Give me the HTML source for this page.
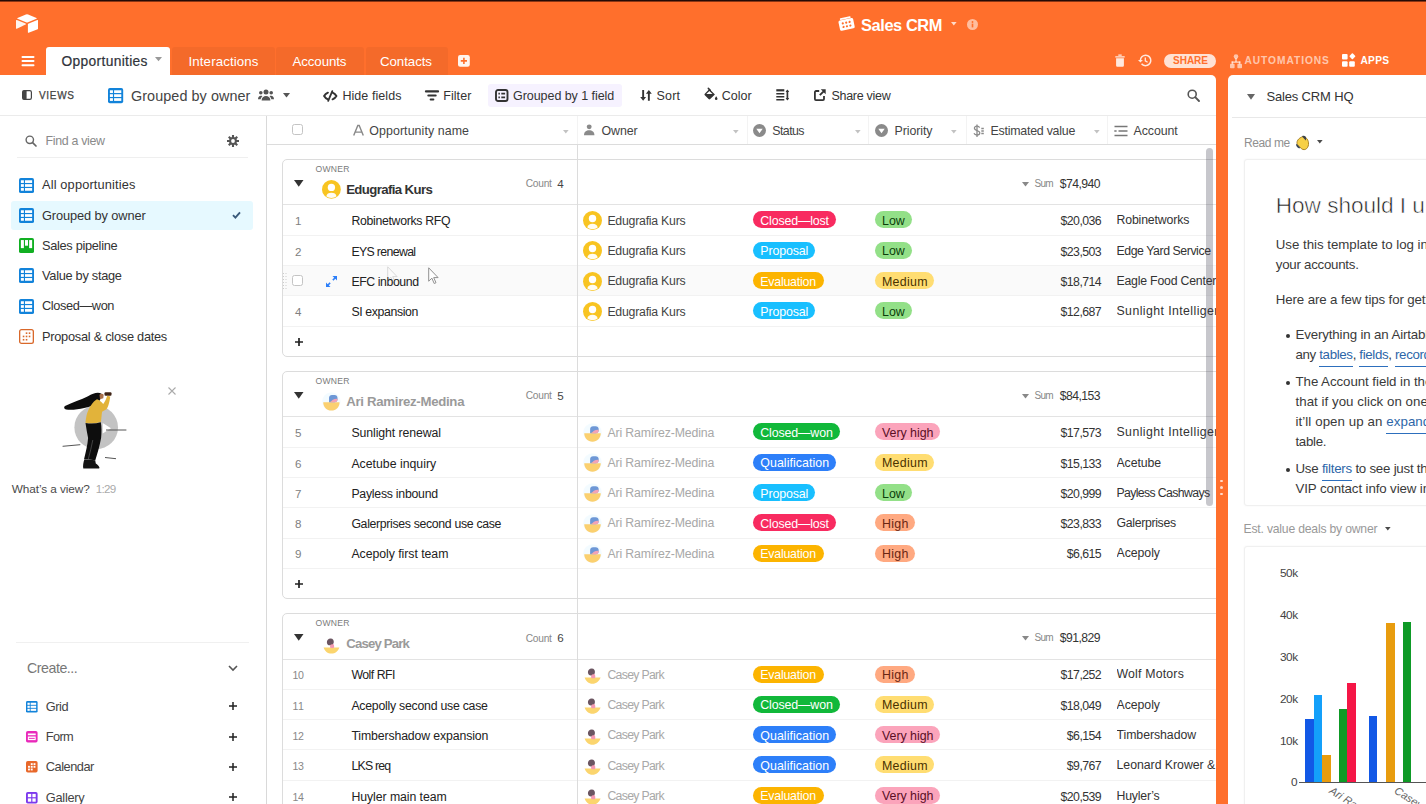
<!DOCTYPE html>
<html><head><meta charset="utf-8"><title>Sales CRM</title><style>
*{box-sizing:border-box;margin:0;padding:0}
html,body{width:1426px;height:804px;overflow:hidden;background:#ff6f2c;font-family:"Liberation Sans",sans-serif;}
.abs{position:absolute}
.t{position:absolute;white-space:nowrap}
svg{position:absolute;overflow:visible}
.pill{position:absolute;height:17px;border-radius:9px;font-size:12px;line-height:17px;text-align:center;white-space:nowrap}
.hl{position:absolute;height:1px;background:#e4e4e4}
.vl{position:absolute;width:1px;background:#dcdcdc}
.lk{color:#2d66a8;border-bottom:1.600px solid #2d6fbd;padding-bottom:4.300px}
</style></head><body>
<div class="abs" style="left:0;top:0;width:1426px;height:1.6px;background:linear-gradient(#1d0805 0,#2a0c06 45%,rgba(150,50,15,.35) 100%)"></div>
<svg style="left:16px;top:14px" width="22" height="19" viewBox="0 0 22 19">
<path d="M9.9 .5 L1.5 3.9 a.5 .5 0 0 0 0 .9 L10 8.2 a2.7 2.7 0 0 0 2 0 L20.5 4.8 a.5 .5 0 0 0 0 -.9 L12.1 .5 a3 3 0 0 0 -2.2 0z" fill="#fff"/>
<path d="M11.9 10.1 v8.2 a.5 .5 0 0 0 .7 .45 l9.1 -3.6 a.5 .5 0 0 0 .3 -.45 V6.5 a.5 .5 0 0 0 -.7 -.45 l-9.1 3.6 a.5 .5 0 0 0 -.3 .45z" fill="#fff"/>
<path d="M9.7 10.5 L6.9 11.8 6.6 11.95 .8 14.7 C.45 14.9 0 14.6 0 14.2 V6.5 c0 -.15 .08 -.28 .18 -.37 a.6 .6 0 0 1 .15 -.1 c.14 -.08 .34 -.1 .5 -.04 l8.8 3.5 c.45 .18 .48 .8 .07 1z" fill="#fff" fill-opacity=".92"/>
</svg>
<svg style="left:838px;top:16px" width="17" height="16" viewBox="0 0 17 16">
<g transform="rotate(-12 8.5 8)"><rect x="1" y="3.2" width="15" height="10.5" rx="1.6" fill="#fff"/>
<circle cx="5" cy="6.6" r="1.1" fill="#ff6f2c"/><circle cx="8.5" cy="6.6" r="1.1" fill="#ff6f2c"/><circle cx="12" cy="6.6" r="1.1" fill="#ff6f2c"/>
<circle cx="5" cy="10.3" r="1.1" fill="#ff6f2c"/><circle cx="8.5" cy="10.3" r="1.1" fill="#ff6f2c"/><circle cx="12" cy="10.3" r="1.1" fill="#ff6f2c"/>
<rect x="3" y="1.2" width="11" height="1.6" rx=".8" fill="#fff"/></g></svg>
<div class="t" style="left:861px;top:14.00px;height:22px;line-height:22px;font-size:16.4px;color:#fff;font-weight:700;letter-spacing:-0.408px;">Sales CRM</div>
<svg style="left:950.5px;top:22.3px" width="5.6" height="4" viewBox="0 0 7 5"><path d="M0 0h7L3.5 4.5z" fill="#fff" fill-opacity=".75"/></svg>
<svg style="left:967px;top:19px" width="11" height="11" viewBox="0 0 11 11"><circle cx="5.5" cy="5.5" r="5.5" fill="#fff" fill-opacity=".55"/>
<rect x="4.7" y="4.6" width="1.6" height="3.8" fill="#ff6f2c"/><circle cx="5.5" cy="3" r=".95" fill="#ff6f2c"/></svg>
<svg style="left:22px;top:56px" width="12" height="10" viewBox="0 0 12 10"><path d="M.5 1h11M.5 5.100h11M.5 9.200h11" stroke="#fff" stroke-width="2" stroke-linecap="round"/></svg>
<div class="abs" style="left:46px;top:46.5px;width:124px;height:30px;background:#fff;border-radius:3px 3px 0 0"></div>
<div class="t" style="left:61.5px;top:53.30px;height:18px;line-height:18px;font-size:13.8px;color:#30333a;font-weight:400;letter-spacing:0.327px;-webkit-text-stroke:.2px #30333a">Opportunities</div>
<svg style="left:155px;top:57px" width="7" height="5" viewBox="0 0 7 5"><path d="M0 0h7L3.5 4.3z" fill="#999"/></svg>
<div class="abs" style="left:171.5px;top:46.5px;width:103.0px;height:28.5px;background:rgba(0,0,0,.045);border-radius:3px 3px 0 0"></div>
<div class="t" style="left:188.5px;top:52.80px;height:18px;line-height:18px;font-size:13.3px;color:#fff;font-weight:400;letter-spacing:0.113px;">Interactions</div>
<div class="abs" style="left:276px;top:46.5px;width:87.5px;height:28.5px;background:rgba(0,0,0,.045);border-radius:3px 3px 0 0"></div>
<div class="t" style="left:292.5px;top:52.80px;height:18px;line-height:18px;font-size:13.3px;color:#fff;font-weight:400;letter-spacing:-0.101px;">Accounts</div>
<div class="abs" style="left:365.5px;top:46.5px;width:82.0px;height:28.5px;background:rgba(0,0,0,.045);border-radius:3px 3px 0 0"></div>
<div class="t" style="left:380px;top:52.80px;height:18px;line-height:18px;font-size:13.3px;color:#fff;font-weight:400;letter-spacing:-0.069px;">Contacts</div>
<svg style="left:457.8px;top:55.3px" width="11.800" height="11.800" viewBox="0 0 11 11"><rect width="11" height="11" rx="2" fill="#fff" fill-opacity=".92"/><path d="M5.5 2.6v5.8M2.6 5.5h5.8" stroke="#ff6f2c" stroke-width="1.5"/></svg>
<svg style="left:1114.5px;top:54px" width="10" height="13" viewBox="0 0 10 13"><path d="M.3 2.2h9.4v1.4H.3zM3.3 .6h3.4v1.2H3.3zM1.1 4.3h7.8v7.3a1.2 1.2 0 0 1-1.2 1.2H2.3a1.2 1.2 0 0 1-1.2-1.2z" fill="#fff" fill-opacity=".85"/></svg>
<svg style="left:1138px;top:54px" width="14" height="13" viewBox="0 0 14 13"><path d="M7.6 .6a5.9 5.9 0 1 1-4.6 9.6l1.1-.9a4.5 4.5 0 1 0-1-3.4h1.8L2.4 8.6 0 5.9h1.7A5.9 5.9 0 0 1 7.6.6z" fill="#fff" fill-opacity=".85"/><path d="M7.3 3.4v3.5l2.3 1.4" stroke="#fff" stroke-opacity=".85" stroke-width="1.3" fill="none"/></svg>
<div class="abs" style="left:1164px;top:53.5px;width:52px;height:14.5px;border-radius:8px;background:rgba(255,255,255,.8)"></div>
<div class="t" style="left:1173px;top:53.80px;height:14px;line-height:14px;font-size:10px;color:#ff6f2c;font-weight:700;letter-spacing:-0.002px;">SHARE</div>
<svg style="left:1229.5px;top:53.5px" width="12" height="15" viewBox="0 0 12 15"><g fill="#fff" fill-opacity=".6"><circle cx="6" cy="2.6" r="2.3"/><rect x="5.2" y="4" width="1.6" height="4"/><rect x="1.6" y="7.4" width="8.8" height="1.5"/><rect x="1.6" y="7.4" width="1.5" height="3"/><rect x="8.9" y="7.4" width="1.5" height="3"/><rect x="0" y="9.8" width="4.6" height="4.4" rx=".8"/><rect x="7.4" y="9.8" width="4.6" height="4.4" rx=".8"/></g></svg>
<div class="t" style="left:1244.5px;top:53.80px;height:14px;line-height:14px;font-size:10.2px;color:rgba(255,255,255,.62);font-weight:700;letter-spacing:0.951px;">AUTOMATIONS</div>
<svg style="left:1342px;top:54px" width="13" height="13" viewBox="0 0 13 13"><g fill="#fff"><rect x="0" y="0" width="5.6" height="5.6" rx="1"/><rect x="0" y="7.2" width="5.6" height="5.6" rx="1"/><rect x="7.2" y="7.2" width="5.6" height="5.6" rx="1"/><rect x="7.6" y="-.2" width="4.6" height="4.6" rx=".8" transform="rotate(45 9.9 2.8)"/></g></svg>
<div class="t" style="left:1360.5px;top:53.80px;height:14px;line-height:14px;font-size:10.2px;color:#fff;font-weight:700;letter-spacing:0.241px;">APPS</div>
<div class="abs" style="left:0;top:75px;width:1216.2px;height:729px;background:#fff;border-radius:0 5px 0 0"></div>
<div class="abs" style="left:1227.5px;top:75px;width:200px;height:729px;background:#fff;border-radius:5px 0 0 0"></div>
<div class="hl" style="left:0;top:115px;width:1216px;background:#ebebeb"></div>
<svg style="left:22px;top:90px" width="10" height="10" viewBox="0 0 10 10"><rect x=".6" y=".6" width="8.8" height="8.8" rx="1.6" fill="none" stroke="#444" stroke-width="1.2"/><rect x=".6" y=".6" width="4" height="8.8" rx="1" fill="#444"/></svg>
<div class="t" style="left:39px;top:88.50px;height:14px;line-height:14px;font-size:10px;color:#444;font-weight:400;letter-spacing:0.693px;-webkit-text-stroke:.25px #444">VIEWS</div>
<svg style="left:108px;top:87.7px" width="15.2" height="15.2" viewBox="0 0 16 16"><rect x="0" y="0" width="16" height="16" rx="2" fill="#1283da"/><g fill="#fff"><rect x="2" y="2.4" width="3.2" height="2.9"/><rect x="6.4" y="2.4" width="7.6" height="2.9"/><rect x="2" y="6.55" width="3.2" height="2.9"/><rect x="6.4" y="6.55" width="7.6" height="2.9"/><rect x="2" y="10.7" width="3.2" height="2.9"/><rect x="6.4" y="10.7" width="7.6" height="2.9"/></g></svg>
<div class="t" style="left:131px;top:85.70px;height:20px;line-height:20px;font-size:14.4px;color:#444;font-weight:400;letter-spacing:0.068px;">Grouped by owner</div>
<svg style="left:258px;top:89px" width="16" height="12" viewBox="0 0 16 12"><g fill="#555"><circle cx="8" cy="3" r="2.5"/><path d="M3.6 11.5c0-3 2-4.6 4.4-4.6s4.400 1.600 4.400 4.600z"/><circle cx="2.800" cy="3.800" r="1.800"/><circle cx="13.200" cy="3.800" r="1.800"/><path d="M0 10.300c0-2.200 1.200-3.500 2.900-3.500 .600 0 1.100 .150 1.500 .400-1 .900-1.600 2.100-1.700 3.100z"/><path d="M16 10.300c0-2.200-1.200-3.500-2.900-3.500-.600 0-1.100 .150-1.500 .400 1 .900 1.600 2.100 1.700 3.100z"/></g></svg>
<svg style="left:283px;top:93px" width="7" height="5" viewBox="0 0 7 5"><path d="M0 0h7L3.500 4.500z" fill="#555"/></svg>
<svg style="left:323px;top:89.5px" width="14.5" height="12" viewBox="0 0 14.5 12"><g fill="none" stroke="#333" stroke-width="2" stroke-linecap="round" stroke-linejoin="round"><path d="M4.9 2.7C3.2 3.4 1.900 4.600 1.100 6c.8 1.400 2.100 2.600 3.800 3.300"/><path d="M9.600 2.700c1.700 .700 3 1.900 3.800 3.300-.800 1.400-2.100 2.600-3.800 3.300"/><path d="M9.300 1.200L5.200 10.800" stroke-width="1.800"/></g></svg>
<div class="t" style="left:342.4px;top:87.70px;height:16px;line-height:16px;font-size:12.5px;color:#333;font-weight:400;letter-spacing:0.064px;">Hide fields</div>
<svg style="left:424.5px;top:90px" width="14" height="11" viewBox="0 0 14 11"><path d="M1 1.400h12" stroke="#333" stroke-width="2.300" stroke-linecap="round"/><path d="M3.300 5.500h7.400" stroke="#333" stroke-width="2" stroke-linecap="round"/><path d="M5.600 9.500h2.800" stroke="#333" stroke-width="1.900" stroke-linecap="round"/></svg>
<div class="t" style="left:443.3px;top:87.70px;height:16px;line-height:16px;font-size:12.5px;color:#333;font-weight:400;letter-spacing:0.044px;">Filter</div>
<div class="abs" style="left:487.5px;top:84.3px;width:134.5px;height:23.2px;background:#f6f2ff;border-radius:3px"></div>
<svg style="left:494.5px;top:89px" width="13.5" height="13" viewBox="0 0 13.5 13"><rect x="1" y="1" width="11.500" height="11" rx="2" fill="none" stroke="#333" stroke-width="1.900"/><path d="M3.400 4.700h1.500M6.300 4.700h3.800M3.400 8.300h1.500M6.300 8.300h3.800" stroke="#333" stroke-width="1.700"/></svg>
<div class="t" style="left:513px;top:87.70px;height:16px;line-height:16px;font-size:12.5px;color:#333;font-weight:400;letter-spacing:-0.05px;">Grouped by 1 field</div>
<svg style="left:639.5px;top:89.5px" width="12" height="11" viewBox="0 0 12 11"><g fill="#333"><path d="M2.200 0h1.900v7h2L3.150 10.800 .2 7h2z"/><path d="M7.900 10.800h1.900v-7h2L8.850 0 5.900 3.800h2z"/></g></svg>
<div class="t" style="left:656.6px;top:87.70px;height:16px;line-height:16px;font-size:12.5px;color:#333;font-weight:400;letter-spacing:0.125px;">Sort</div>
<svg style="left:703.5px;top:88.3px" width="14" height="12.5" viewBox="0 0 14 12.5"><path d="M5.400 .9 L10.900 6.400 6.200 11.100 a1.100 1.100 0 0 1 -1.600 0 L.8 7.300 a1.100 1.100 0 0 1 0 -1.600z" fill="#333"/><path d="M2.300 6.100 L5.400 3 8.500 6.100z" fill="#fff"/><path d="M4.300 0.400 L6.300 2.400" stroke="#333" stroke-width="1.500" stroke-linecap="round"/><path d="M12.200 8.200 c.8 1.200 1.300 1.900 1.300 2.600 a1.300 1.300 0 0 1 -2.600 0 c0 -.7 .5 -1.400 1.300 -2.600z" fill="#333"/></svg>
<div class="t" style="left:721.7px;top:87.70px;height:16px;line-height:16px;font-size:12.5px;color:#333;font-weight:400;letter-spacing:0.032px;">Color</div>
<svg style="left:775.7px;top:89.3px" width="13.5" height="12" viewBox="0 0 13.5 12"><path d="M.3 1.300h8" stroke="#333" stroke-width="2.200"/><path d="M.3 4.700h8M.3 7.700h8M.3 10.700h8" stroke="#333" stroke-width="1.500"/><path d="M11.400 1.600v8.800" stroke="#333" stroke-width="1.700"/><path d="M9.600 3L11.400 .4l1.800 2.600zM9.600 9l1.800 2.600 1.800-2.600z" fill="#333"/></svg>
<svg style="left:814.2px;top:89px" width="12" height="12" viewBox="0 0 12 12"><path d="M5.200 2H2a1.100 1.100 0 0 0-1.100 1.100v6.900A1.100 1.100 0 0 0 2 11.100h6.900A1.100 1.100 0 0 0 10 10V7" fill="none" stroke="#333" stroke-width="1.800"/><path d="M6.800 .3h4.900v4.900z" fill="#333"/><path d="M10.200 1.800L5.800 6.200" stroke="#333" stroke-width="1.900"/></svg>
<div class="t" style="left:831.4px;top:87.70px;height:16px;line-height:16px;font-size:12.5px;color:#333;font-weight:400;letter-spacing:-0.271px;">Share view</div>
<svg style="left:1186.500px;top:89px" width="13" height="13" viewBox="0 0 13 13"><circle cx="5.200" cy="5.200" r="4" fill="none" stroke="#555" stroke-width="1.600"/><path d="M8.200 8.200l3.800 3.800" stroke="#555" stroke-width="1.900" stroke-linecap="round"/></svg>
<div class="vl" style="left:266px;top:116px;height:688px;background:#d9d9d9"></div>
<svg style="left:24.500px;top:134.500px" width="12" height="12" viewBox="0 0 12 12"><circle cx="4.800" cy="4.800" r="3.700" fill="none" stroke="#666" stroke-width="1.400"/><path d="M7.600 7.600l3.400 3.400" stroke="#666" stroke-width="1.700" stroke-linecap="round"/></svg>
<div class="t" style="left:45.5px;top:132.60px;height:16px;line-height:16px;font-size:12.4px;color:#8a8a8a;font-weight:400;letter-spacing:-0.322px;">Find a view</div>
<svg style="left:227px;top:134.500px" width="12" height="12" viewBox="0 0 12 12"><g stroke="#555" stroke-width="2.100"><path d="M6 0v12M0 6h12M1.760 1.760l8.480 8.480M10.240 1.760l-8.480 8.480"/></g><circle cx="6" cy="6" r="3.900" fill="#555"/><circle cx="6" cy="6" r="1.900" fill="#fff"/></svg>
<div class="hl" style="left:16.500px;top:157px;width:231px;background:#efefef"></div>
<div class="abs" style="left:10.500px;top:201px;width:242.500px;height:28.500px;background:#e6f9ff;border-radius:3px"></div>
<svg style="left:18.8px;top:177.5px" width="15" height="15" viewBox="0 0 16 16"><rect x="0" y="0" width="16" height="16" rx="2" fill="#1283da"/><g fill="#fff"><rect x="2" y="2.4" width="3.2" height="2.9"/><rect x="6.4" y="2.4" width="7.6" height="2.9"/><rect x="2" y="6.55" width="3.2" height="2.9"/><rect x="6.4" y="6.55" width="7.6" height="2.9"/><rect x="2" y="10.7" width="3.2" height="2.9"/><rect x="6.4" y="10.7" width="7.6" height="2.9"/></g></svg>
<div class="t" style="left:42px;top:177.30px;height:16px;line-height:16px;font-size:12.8px;color:#333;font-weight:400;letter-spacing:0.145px;">All opportunities</div>
<svg style="left:18.8px;top:207.8px" width="15" height="15" viewBox="0 0 16 16"><rect x="0" y="0" width="16" height="16" rx="2" fill="#1283da"/><g fill="#fff"><rect x="2" y="2.4" width="3.2" height="2.9"/><rect x="6.4" y="2.4" width="7.6" height="2.9"/><rect x="2" y="6.55" width="3.2" height="2.9"/><rect x="6.4" y="6.55" width="7.6" height="2.9"/><rect x="2" y="10.7" width="3.2" height="2.9"/><rect x="6.4" y="10.7" width="7.6" height="2.9"/></g></svg>
<div class="t" style="left:42px;top:207.60px;height:16px;line-height:16px;font-size:12.8px;color:#333;font-weight:400;letter-spacing:-0.107px;">Grouped by owner</div>
<svg style="left:18.8px;top:238.2px" width="15" height="15" viewBox="0 0 16 16"><rect width="16" height="16" rx="2" fill="#11af22"/><g fill="#fff"><rect x="2" y="2.200" width="3.200" height="8.600"/><rect x="6.400" y="2.200" width="3.200" height="6"/><rect x="10.800" y="2.200" width="3.200" height="8.600"/></g></svg>
<div class="t" style="left:42px;top:238.00px;height:16px;line-height:16px;font-size:12.8px;color:#333;font-weight:400;letter-spacing:-0.316px;">Sales pipeline</div>
<svg style="left:18.8px;top:268.3px" width="15" height="15" viewBox="0 0 16 16"><rect x="0" y="0" width="16" height="16" rx="2" fill="#1283da"/><g fill="#fff"><rect x="2" y="2.4" width="3.2" height="2.9"/><rect x="6.4" y="2.4" width="7.6" height="2.9"/><rect x="2" y="6.55" width="3.2" height="2.9"/><rect x="6.4" y="6.55" width="7.6" height="2.9"/><rect x="2" y="10.7" width="3.2" height="2.9"/><rect x="6.4" y="10.7" width="7.6" height="2.9"/></g></svg>
<div class="t" style="left:42px;top:268.10px;height:16px;line-height:16px;font-size:12.8px;color:#333;font-weight:400;letter-spacing:-0.287px;">Value by stage</div>
<svg style="left:18.8px;top:298.5px" width="15" height="15" viewBox="0 0 16 16"><rect x="0" y="0" width="16" height="16" rx="2" fill="#1283da"/><g fill="#fff"><rect x="2" y="2.4" width="3.2" height="2.9"/><rect x="6.4" y="2.4" width="7.6" height="2.9"/><rect x="2" y="6.55" width="3.2" height="2.9"/><rect x="6.4" y="6.55" width="7.6" height="2.9"/><rect x="2" y="10.7" width="3.2" height="2.9"/><rect x="6.4" y="10.7" width="7.6" height="2.9"/></g></svg>
<div class="t" style="left:42px;top:298.30px;height:16px;line-height:16px;font-size:12.8px;color:#333;font-weight:400;letter-spacing:-0.403px;">Closed—won</div>
<svg style="left:18.8px;top:328.8px" width="15" height="15" viewBox="0 0 16 16"><rect x=".700" y=".700" width="14.600" height="14.600" rx="2" fill="#fff" stroke="#d9682a" stroke-width="1.400"/><g fill="#d9682a"><rect x="7.200" y="3.600" width="1.700" height="1.700"/><rect x="10.400" y="3.600" width="1.700" height="1.700"/><rect x="4" y="7.100" width="1.700" height="1.700"/><rect x="7.200" y="7.100" width="1.700" height="1.700"/><rect x="10.400" y="7.100" width="1.700" height="1.700"/><rect x="4" y="10.600" width="1.700" height="1.700"/><rect x="7.200" y="10.600" width="1.700" height="1.700"/></g></svg>
<div class="t" style="left:42px;top:328.60px;height:16px;line-height:16px;font-size:12.8px;color:#333;font-weight:400;letter-spacing:-0.268px;">Proposal &amp; close dates</div>
<svg style="left:231.500px;top:211px" width="9" height="8" viewBox="0 0 9 8"><path d="M1 4.200l2.400 2.400L8 1.400" fill="none" stroke="#3a5a7a" stroke-width="1.900"/></svg>
<svg style="left:55px;top:385px" width="130" height="90" viewBox="55 385 130 90">
<circle cx="96.200" cy="427.400" r="21.800" fill="#c3c3c3"/>
<path d="M102.700 423l8.300 5.200-8.300 5.200z" fill="#fff"/>
<path d="M101.500 393.800c-3.500-2.200-8.500-.300-13.500 2.400-6.500 3.500-16 6.200-23 9.800-1.500 1-.800 3.200 1.200 3.600 5.500 .700 12-.200 18-1.600 6-1.400 10.500-2.800 13.500-5.200 2.300-1.800 3.800-5.400 3.800-9z" fill="#0d0d0d"/>
<path d="M99.500 394.800c1.300-1.300 3.200-1.300 4.200 0l-.400 3.400-3.300 1z" fill="#a8704a"/>
<rect x="104.500" y="392.200" width="7" height="3.500" rx="1" fill="#3f2416"/>
<path d="M97 399.300c-4 2-8.300 8.600-10.300 15.500-.600 2.800-1 5.500-1.300 8 5 1 10.500 .700 15.500-.800 .600-3.800 .600-6.800 1.200-10.200l4.300-2.600c2-2.500 3.300-7.800 3.800-12.800l-3-.700c-.900 3-2.300 6.300-4 8.300-1.600-2-3.700-3.700-6.200-4.700z" fill="#e2b33a"/>
<path d="M85.500 422.900c5 1 10.400 .800 15.300-.700 .900 5 .900 10.500 .300 15.700-1.300 7.500-3.500 15-5.800 22.300l-11.200-1.100c1.700-7 3.500-14 4-21-.900-5-1.900-10-2.600-15.200z" fill="#0d0d0d"/>
<path d="M92.800 440c-1.300 6.500-2.800 13-4.600 19.500" stroke="#777" stroke-width=".5" fill="none"/>
<path d="M84.400 459.300l10.800 1 .600 3.200c1.500 .900 3 2.200 3.700 4.300l-.4 .600h-15.800c-.600-2.200 .100-6.200 1.100-9.100z" fill="#141414"/>
<path d="M62.600 446.300l17.700-1.600M106 430h20.400M105 457.500l11 1.200" stroke="#555" stroke-width="1" fill="none"/>
</svg>
<svg style="left:168.300px;top:387px" width="8" height="8" viewBox="0 0 8 8"><path d="M.500 .500l7 7M7.500 .500l-7 7" stroke="#aaa" stroke-width="1.100"/></svg>
<div class="t" style="left:11.8px;top:480.80px;height:16px;line-height:16px;font-size:11.8px;color:#4a4a4a;font-weight:400;letter-spacing:-0.088px;">What’s a view?</div>
<div class="t" style="left:95.7px;top:480.80px;height:16px;line-height:16px;font-size:11.6px;color:#aaa;font-weight:400;letter-spacing:-0.692px;">1:29</div>
<div class="hl" style="left:16px;top:642px;width:232.500px;background:#f0f0f0"></div>
<div class="t" style="left:27px;top:658.00px;height:20px;line-height:20px;font-size:14.2px;color:#777;font-weight:400;letter-spacing:-0.457px;">Create...</div>
<svg style="left:228px;top:664.500px" width="10" height="6.500" viewBox="0 0 10 6.500"><path d="M1 1l4 4 4-4" fill="none" stroke="#555" stroke-width="1.600"/></svg>
<svg style="left:26.3px;top:700.6px" width="11.6" height="11.6" viewBox="0 0 16 16"><rect x="0" y="0" width="16" height="16" rx="2" fill="#1283da"/><g fill="#fff"><rect x="2" y="2.4" width="3.2" height="2.9"/><rect x="6.4" y="2.4" width="7.6" height="2.9"/><rect x="2" y="6.55" width="3.2" height="2.9"/><rect x="6.4" y="6.55" width="7.6" height="2.9"/><rect x="2" y="10.7" width="3.2" height="2.9"/><rect x="6.4" y="10.7" width="7.6" height="2.9"/></g></svg>
<div class="t" style="left:45.8px;top:698.70px;height:16px;line-height:16px;font-size:12.8px;color:#444;font-weight:400;letter-spacing:-0.461px;">Grid</div>
<svg style="left:228.600px;top:702.4px" width="8" height="8" viewBox="0 0 8 8"><path d="M4 0v8M0 4h8" stroke="#222" stroke-width="1.500"/></svg>
<svg style="left:26.3px;top:730.9000000000001px" width="11.6" height="11.6" viewBox="0 0 16 16"><rect width="16" height="16" rx="2.400" fill="#e929ba"/><g fill="#fff"><rect x="2.600" y="3.400" width="10.800" height="2.400"/><rect x="2.600" y="7.600" width="10.800" height="5"/></g><rect x="4" y="9.500" width="8" height="1.300" fill="#e929ba"/></svg>
<div class="t" style="left:45.8px;top:729.00px;height:16px;line-height:16px;font-size:12.8px;color:#444;font-weight:400;letter-spacing:-0.655px;">Form</div>
<svg style="left:228.600px;top:732.7px" width="8" height="8" viewBox="0 0 8 8"><path d="M4 0v8M0 4h8" stroke="#222" stroke-width="1.500"/></svg>
<svg style="left:26.3px;top:761.2px" width="11.6" height="11.6" viewBox="0 0 16 16"><rect width="16" height="16" rx="2.400" fill="#e8682a"/><g fill="#fff"><rect x="6.600" y="3" width="2.600" height="2.600"/><rect x="10.400" y="3" width="2.600" height="2.600"/><rect x="2.800" y="6.700" width="2.600" height="2.600"/><rect x="6.600" y="6.700" width="2.600" height="2.600"/><rect x="10.400" y="6.700" width="2.600" height="2.600"/><rect x="2.800" y="10.400" width="2.600" height="2.600"/><rect x="6.600" y="10.400" width="2.600" height="2.600"/></g></svg>
<div class="t" style="left:45.8px;top:759.30px;height:16px;line-height:16px;font-size:12.8px;color:#444;font-weight:400;letter-spacing:-0.492px;">Calendar</div>
<svg style="left:228.600px;top:763px" width="8" height="8" viewBox="0 0 8 8"><path d="M4 0v8M0 4h8" stroke="#222" stroke-width="1.500"/></svg>
<svg style="left:26.3px;top:791.5px" width="11.6" height="11.6" viewBox="0 0 16 16"><rect width="16" height="16" rx="2.400" fill="#7c39ed"/><g fill="#fff"><rect x="2.600" y="2.600" width="4.600" height="4.600"/><rect x="8.800" y="2.600" width="4.600" height="4.600"/><rect x="2.600" y="8.800" width="4.600" height="4.600"/><rect x="8.800" y="8.800" width="4.600" height="4.600"/></g></svg>
<div class="t" style="left:45.8px;top:789.60px;height:16px;line-height:16px;font-size:12.8px;color:#444;font-weight:400;letter-spacing:-0.274px;">Gallery</div>
<svg style="left:228.600px;top:793.3px" width="8" height="8" viewBox="0 0 8 8"><path d="M4 0v8M0 4h8" stroke="#222" stroke-width="1.500"/></svg>
<div class="hl" style="left:267px;top:144px;width:949px;background:#dcdcdc"></div>
<div class="vl" style="left:576.5px;top:116px;height:28px;background:#f3f3f3"></div>
<div class="vl" style="left:746.5px;top:116px;height:28px;background:#f3f3f3"></div>
<div class="vl" style="left:868px;top:116px;height:28px;background:#f3f3f3"></div>
<div class="vl" style="left:965.5px;top:116px;height:28px;background:#f3f3f3"></div>
<div class="vl" style="left:1106.5px;top:116px;height:28px;background:#f3f3f3"></div>
<div class="abs" style="left:292px;top:124.3px;width:11px;height:11px;border:1px solid #c4c4c4;border-radius:2.500px;background:#fff"></div>
<svg style="left:352.500px;top:124.500px" width="11" height="11" viewBox="0 0 11 11"><path d="M.700 10.600L4.800 .500h1.400l4.100 10.100M2.300 7.100h6.400" fill="none" stroke="#888" stroke-width="1.400"/></svg>
<div class="t" style="left:369.3px;top:123.40px;height:16px;line-height:16px;font-size:12.4px;color:#444;font-weight:400;letter-spacing:0.076px;">Opportunity name</div>
<svg style="left:562.5px;top:129.6px" width="5.6" height="4.00" viewBox="0 0 7 5"><path d="M0 0h7L3.500 4.400z" fill="#c2c2c2"/></svg>
<svg style="left:584.3px;top:124.3px" width="10.400" height="11.600" viewBox="0 0 11 12"><g fill="#8a8a8a"><circle cx="5.500" cy="2.900" r="2.600"/><path d="M0 11.800c0-3.600 2.400-5.200 5.500-5.200s5.500 1.600 5.500 5.200z"/></g></svg>
<div class="t" style="left:601.6px;top:123.40px;height:16px;line-height:16px;font-size:12.4px;color:#444;font-weight:400;letter-spacing:-0.131px;">Owner</div>
<svg style="left:732.5px;top:129.6px" width="5.6" height="4.00" viewBox="0 0 7 5"><path d="M0 0h7L3.500 4.400z" fill="#c2c2c2"/></svg>
<svg style="left:752.8px;top:124.2px" width="13" height="13" viewBox="0 0 13 13"><circle cx="6.500" cy="6.500" r="6.500" fill="#8a8a8a"/><path d="M3.300 4.700h6.400L6.500 9.300z" fill="#fff"/></svg>
<div class="t" style="left:772.2px;top:123.40px;height:16px;line-height:16px;font-size:12.4px;color:#444;font-weight:400;letter-spacing:-0.551px;">Status</div>
<svg style="left:854.5px;top:129.6px" width="5.6" height="4.00" viewBox="0 0 7 5"><path d="M0 0h7L3.500 4.400z" fill="#c2c2c2"/></svg>
<svg style="left:875px;top:124.2px" width="13" height="13" viewBox="0 0 13 13"><circle cx="6.500" cy="6.500" r="6.500" fill="#8a8a8a"/><path d="M3.300 4.700h6.400L6.500 9.300z" fill="#fff"/></svg>
<div class="t" style="left:894.5px;top:123.40px;height:16px;line-height:16px;font-size:12.4px;color:#444;font-weight:400;letter-spacing:-0.069px;">Priority</div>
<svg style="left:950.5px;top:129.6px" width="5.6" height="4.00" viewBox="0 0 7 5"><path d="M0 0h7L3.500 4.400z" fill="#c2c2c2"/></svg>
<svg style="left:972.500px;top:123.500px" width="11" height="14" viewBox="0 0 11 14"><g fill="none" stroke="#8a8a8a" stroke-width="1.300"><path d="M6.600 3.600c-.500-1-1.500-1.400-2.600-1.400-1.500 0-2.600 .800-2.600 2.100 0 2.900 5.400 1.500 5.400 4.500 0 1.400-1.200 2.200-2.800 2.200-1.300 0-2.500-.500-3-1.700"/><path d="M4 .500v12.500"/><path d="M8.300 4.500h2.500M8.300 7h2.500M8.300 9.500h2.500"/></g></svg>
<div class="t" style="left:990.5px;top:123.40px;height:16px;line-height:16px;font-size:12.4px;color:#444;font-weight:400;letter-spacing:-0.238px;">Estimated value</div>
<svg style="left:1093.5px;top:129.6px" width="5.6" height="4.00" viewBox="0 0 7 5"><path d="M0 0h7L3.500 4.400z" fill="#c2c2c2"/></svg>
<svg style="left:1113.500px;top:124.500px" width="14" height="12" viewBox="0 0 14 12"><path d="M.500 1.400h13M4.500 6h9M.500 10.600h13" stroke="#777" stroke-width="1.500"/><path d="M.300 6h2.300" stroke="#777" stroke-width="1.500"/></svg>
<div class="t" style="left:1133.6px;top:123.40px;height:16px;line-height:16px;font-size:12.4px;color:#444;font-weight:400;letter-spacing:-0.101px;">Account</div>
<div class="abs" style="left:281.500px;top:159.1px;width:940px;height:197.8px;border:1px solid #dcdcdc;border-radius:5px 0 0 5px;background:#fff"></div>
<div class="t" style="left:315.5px;top:163.30px;height:12px;line-height:12px;font-size:8.6px;color:#7a7a7a;font-weight:400;letter-spacing:0.234px;">OWNER</div>
<svg style="left:294px;top:180.0px" width="9.500" height="7" viewBox="0 0 9.500 7"><path d="M0 0h9.500L4.750 6.800z" fill="#333"/></svg>
<svg style="left:321.6px;top:179.79999999999998px" width="18.8" height="18.8" viewBox="0 0 20 20"><circle cx="10" cy="10" r="10" fill="#f8c421"/><circle cx="10" cy="7.900" r="3.900" fill="#fff"/><path d="M4.600 17.300c.300-2.600 2.500-3.800 5.400-3.800s5.100 1.200 5.400 3.800c-1.500 1.200-3.300 1.800-5.400 1.800s-3.900-.600-5.400-1.800z" fill="#fff" fill-opacity=".95"/></svg>
<div class="t" style="left:346.2px;top:180.50px;height:18px;line-height:18px;font-size:13.2px;color:#333;font-weight:700;letter-spacing:-0.609px;">Edugrafia Kurs</div>
<div class="t" style="left:525.7px;top:177.40px;height:14px;line-height:14px;font-size:10.2px;color:#888;font-weight:400;letter-spacing:-0.23px;">Count</div>
<div class="t" style="left:557.3px;top:176.70px;height:14px;line-height:14px;font-size:11.6px;color:#444;font-weight:400;letter-spacing:0px;">4</div>
<svg style="left:1022px;top:181.9px" width="7" height="5.00" viewBox="0 0 7 5"><path d="M0 0h7L3.500 4.400z" fill="#888"/></svg>
<div class="t" style="left:1034.4px;top:177.20px;height:14px;line-height:14px;font-size:10px;color:#888;font-weight:400;letter-spacing:-0.631px;">Sum</div>
<div class="t" style="left:1059.7px;top:177.20px;height:14px;line-height:14px;font-size:12.2px;color:#333;font-weight:400;letter-spacing:-0.517px;">$74,940</div>
<div class="hl" style="left:282.500px;top:204.4px;width:934px;background:#e3e3e3"></div>
<div class="t" style="left:294.9px;top:214.30px;height:14px;line-height:14px;font-size:11.6px;color:#808080;font-weight:400;letter-spacing:0px;">1</div>
<div class="t" style="left:351.4px;top:213.30px;height:16px;line-height:16px;font-size:12.3px;color:#222;font-weight:400;letter-spacing:-0.313px;">Robinetworks RFQ</div>
<svg style="left:583.1px;top:210.9px" width="19.0" height="19.0" viewBox="0 0 20 20"><circle cx="10" cy="10" r="10" fill="#f8c421"/><circle cx="10" cy="7.900" r="3.900" fill="#fff"/><path d="M4.600 17.300c.300-2.600 2.500-3.800 5.400-3.800s5.100 1.200 5.400 3.800c-1.500 1.200-3.300 1.800-5.400 1.800s-3.900-.600-5.400-1.800z" fill="#fff" fill-opacity=".95"/></svg>
<div class="t" style="left:607.4px;top:212.60px;height:16px;line-height:16px;font-size:12.3px;color:#444;font-weight:400;letter-spacing:-0.236px;">Edugrafia Kurs</div>
<div class="pill" style="left:752.9px;top:211.4px;width:83.5px;background:#f82b60"></div><div class="t" style="left:760.3px;top:213.00px;height:16px;line-height:16px;font-size:12.4px;color:#fff;font-weight:400;letter-spacing:-0.15px;">Closed—lost</div>
<div class="pill" style="left:875.2px;top:211.4px;width:36.7px;background:#93e088"></div><div class="t" style="left:882px;top:213.00px;height:16px;line-height:16px;font-size:12.4px;color:#0b3d0b;font-weight:400;letter-spacing:0.026px;">Low</div>
<div class="t" style="right:324.84399999999994px;top:213.30px;height:16px;line-height:16px;font-size:12.3px;color:#333;font-weight:400;letter-spacing:-0.544px;">$20,036</div>
<div class="t" style="left:1116.5px;top:212.30px;height:16px;line-height:16px;font-size:12.3px;color:#333;font-weight:400;letter-spacing:-0.156px;width:99.800px;overflow:hidden">Robinetworks</div>
<div class="hl" style="left:282.500px;top:234.7px;width:934px;background:#f2f2f2"></div>
<div class="t" style="left:294.9px;top:244.60px;height:14px;line-height:14px;font-size:11.6px;color:#808080;font-weight:400;letter-spacing:0px;">2</div>
<div class="t" style="left:351.4px;top:243.60px;height:16px;line-height:16px;font-size:12.3px;color:#222;font-weight:400;letter-spacing:-0.641px;">EYS renewal</div>
<svg style="left:583.1px;top:241.20000000000002px" width="19.0" height="19.0" viewBox="0 0 20 20"><circle cx="10" cy="10" r="10" fill="#f8c421"/><circle cx="10" cy="7.900" r="3.900" fill="#fff"/><path d="M4.600 17.300c.300-2.600 2.500-3.800 5.400-3.800s5.100 1.200 5.400 3.800c-1.500 1.200-3.300 1.800-5.400 1.800s-3.900-.600-5.400-1.800z" fill="#fff" fill-opacity=".95"/></svg>
<div class="t" style="left:607.4px;top:242.90px;height:16px;line-height:16px;font-size:12.3px;color:#444;font-weight:400;letter-spacing:-0.236px;">Edugrafia Kurs</div>
<div class="pill" style="left:752.9px;top:241.7px;width:62px;background:#18bfff"></div><div class="t" style="left:760.3px;top:243.30px;height:16px;line-height:16px;font-size:12.4px;color:#fff;font-weight:400;letter-spacing:-0.135px;">Proposal</div>
<div class="pill" style="left:875.2px;top:241.7px;width:36.7px;background:#93e088"></div><div class="t" style="left:882px;top:243.30px;height:16px;line-height:16px;font-size:12.4px;color:#0b3d0b;font-weight:400;letter-spacing:0.026px;">Low</div>
<div class="t" style="right:324.84399999999994px;top:243.60px;height:16px;line-height:16px;font-size:12.3px;color:#333;font-weight:400;letter-spacing:-0.544px;">$23,503</div>
<div class="t" style="left:1116.5px;top:242.60px;height:16px;line-height:16px;font-size:12.3px;color:#333;font-weight:400;letter-spacing:-0.433px;width:99.800px;overflow:hidden">Edge Yard Service</div>
<div class="hl" style="left:282.500px;top:265.0px;width:934px;background:#f2f2f2"></div>
<div class="abs" style="left:282.500px;top:266.0px;width:934px;height:29.3px;background:#fafafa"></div>
<div class="abs" style="left:292px;top:274.9px;width:11px;height:11px;border:1px solid #c4c4c4;border-radius:2.500px;background:#fff"></div>
<svg style="left:283px;top:272.9px" width="4" height="16" viewBox="0 0 4 16"><g fill="#ccc"><rect x="0" y="0" width="1" height="1"/><rect x="2.500" y="0" width="1" height="1"/><rect x="0" y="3" width="1" height="1"/><rect x="2.500" y="3" width="1" height="1"/><rect x="0" y="6" width="1" height="1"/><rect x="2.500" y="6" width="1" height="1"/><rect x="0" y="9" width="1" height="1"/><rect x="2.500" y="9" width="1" height="1"/><rect x="0" y="12" width="1" height="1"/><rect x="2.500" y="12" width="1" height="1"/><rect x="0" y="15" width="1" height="1"/><rect x="2.500" y="15" width="1" height="1"/></g></svg>
<svg style="left:325.500px;top:276.4px" width="11" height="11" viewBox="0 0 11 11"><g fill="#2d7ff9"><path d="M6.500 0H11v4.500L9.300 2.800 7.400 4.700 6.300 3.600 8.200 1.700z"/><path d="M4.500 11H0V6.500l1.700 1.700 1.900-1.900 1.100 1.100-1.900 1.900z"/></g></svg>
<div class="t" style="left:351.4px;top:273.90px;height:16px;line-height:16px;font-size:12.3px;color:#222;font-weight:400;letter-spacing:-0.41px;">EFC inbound</div>
<svg style="left:583.1px;top:271.5px" width="19.0" height="19.0" viewBox="0 0 20 20"><circle cx="10" cy="10" r="10" fill="#f8c421"/><circle cx="10" cy="7.900" r="3.900" fill="#fff"/><path d="M4.600 17.300c.300-2.600 2.500-3.800 5.400-3.800s5.100 1.200 5.400 3.800c-1.500 1.200-3.300 1.800-5.400 1.800s-3.900-.600-5.400-1.800z" fill="#fff" fill-opacity=".95"/></svg>
<div class="t" style="left:607.4px;top:273.20px;height:16px;line-height:16px;font-size:12.3px;color:#444;font-weight:400;letter-spacing:-0.236px;">Edugrafia Kurs</div>
<div class="pill" style="left:752.9px;top:272.0px;width:70.8px;background:#fcb400"></div><div class="t" style="left:760.3px;top:273.60px;height:16px;line-height:16px;font-size:12.4px;color:#fff;font-weight:400;letter-spacing:-0.234px;">Evaluation</div>
<div class="pill" style="left:875.2px;top:272.0px;width:59.3px;background:#ffdd72"></div><div class="t" style="left:882px;top:273.60px;height:16px;line-height:16px;font-size:12.4px;color:#4a3200;font-weight:400;letter-spacing:0.299px;">Medium</div>
<div class="t" style="right:324.84399999999994px;top:273.90px;height:16px;line-height:16px;font-size:12.3px;color:#333;font-weight:400;letter-spacing:-0.544px;">$18,714</div>
<div class="t" style="left:1116.5px;top:272.90px;height:16px;line-height:16px;font-size:12.3px;color:#333;font-weight:400;letter-spacing:-0.21px;width:99.800px;overflow:hidden">Eagle Food Center</div>
<div class="hl" style="left:282.500px;top:295.3px;width:934px;background:#f2f2f2"></div>
<div class="t" style="left:294.9px;top:305.20px;height:14px;line-height:14px;font-size:11.6px;color:#808080;font-weight:400;letter-spacing:0px;">4</div>
<div class="t" style="left:351.4px;top:304.20px;height:16px;line-height:16px;font-size:12.3px;color:#222;font-weight:400;letter-spacing:-0.374px;">SI expansion</div>
<svg style="left:583.1px;top:301.8px" width="19.0" height="19.0" viewBox="0 0 20 20"><circle cx="10" cy="10" r="10" fill="#f8c421"/><circle cx="10" cy="7.900" r="3.900" fill="#fff"/><path d="M4.600 17.300c.300-2.600 2.500-3.800 5.400-3.800s5.100 1.200 5.400 3.800c-1.500 1.200-3.300 1.800-5.400 1.800s-3.900-.600-5.400-1.800z" fill="#fff" fill-opacity=".95"/></svg>
<div class="t" style="left:607.4px;top:303.50px;height:16px;line-height:16px;font-size:12.3px;color:#444;font-weight:400;letter-spacing:-0.236px;">Edugrafia Kurs</div>
<div class="pill" style="left:752.9px;top:302.3px;width:62px;background:#18bfff"></div><div class="t" style="left:760.3px;top:303.90px;height:16px;line-height:16px;font-size:12.4px;color:#fff;font-weight:400;letter-spacing:-0.135px;">Proposal</div>
<div class="pill" style="left:875.2px;top:302.3px;width:36.7px;background:#93e088"></div><div class="t" style="left:882px;top:303.90px;height:16px;line-height:16px;font-size:12.4px;color:#0b3d0b;font-weight:400;letter-spacing:0.026px;">Low</div>
<div class="t" style="right:324.84399999999994px;top:304.20px;height:16px;line-height:16px;font-size:12.3px;color:#333;font-weight:400;letter-spacing:-0.544px;">$12,687</div>
<div class="t" style="left:1116.5px;top:303.20px;height:16px;line-height:16px;font-size:12.3px;color:#333;font-weight:400;letter-spacing:0.42px;width:99.800px;overflow:hidden">Sunlight Intelligence</div>
<div class="hl" style="left:282.500px;top:325.6px;width:934px;background:#f2f2f2"></div>
<svg style="left:295px;top:337.55px" width="8" height="8" viewBox="0 0 8 8"><path d="M4 0v8M0 4h8" stroke="#222" stroke-width="1.700"/></svg>
<div class="abs" style="left:281.500px;top:371.0px;width:940px;height:228.1px;border:1px solid #dcdcdc;border-radius:5px 0 0 5px;background:#fff"></div>
<div class="t" style="left:315.5px;top:375.20px;height:12px;line-height:12px;font-size:8.6px;color:#7a7a7a;font-weight:400;letter-spacing:0.234px;">OWNER</div>
<svg style="left:294px;top:391.9px" width="9.500" height="7" viewBox="0 0 9.500 7"><path d="M0 0h9.500L4.750 6.800z" fill="#333"/></svg>
<svg style="left:321.6px;top:392.40000000000003px" width="18.8" height="18.8" viewBox="0 0 20 20"><circle cx="10" cy="10" r="9.800" fill="#eefaff" fill-opacity=".7"/><path d="M1.300 10.800h17.400c0 4.800-3.700 9-8.700 9s-8.700-4.200-8.700-9z" fill="#fbd070"/><path d="M7.500 10.900V6.200c0-1.700 1.300-2.900 3-2.900h2.800c1.900 0 3.200 1.300 3.200 3v1.600c0 1.600-1.300 3-3 3z" fill="#6d97d6"/><path d="M9.400 10.900c.400-2.300 3.200-4 7.100-3.800v1c0 1.600-1.300 2.800-2.900 2.800z" fill="#f3a2b6"/><path d="M7.500 10.800c1.500-.900 3.600-.900 5.200 0z" fill="#f8b58a"/></svg>
<div class="t" style="left:346.2px;top:393.20px;height:18px;line-height:18px;font-size:13.2px;color:#9a9a9a;font-weight:700;letter-spacing:-0.284px;">Ari Ramirez-Medina</div>
<div class="t" style="left:525.7px;top:389.30px;height:14px;line-height:14px;font-size:10.2px;color:#888;font-weight:400;letter-spacing:-0.23px;">Count</div>
<div class="t" style="left:557.3px;top:388.60px;height:14px;line-height:14px;font-size:11.6px;color:#444;font-weight:400;letter-spacing:0px;">5</div>
<svg style="left:1022px;top:393.8px" width="7" height="5.00" viewBox="0 0 7 5"><path d="M0 0h7L3.500 4.400z" fill="#888"/></svg>
<div class="t" style="left:1034.4px;top:389.10px;height:14px;line-height:14px;font-size:10px;color:#888;font-weight:400;letter-spacing:-0.631px;">Sum</div>
<div class="t" style="left:1059.7px;top:389.10px;height:14px;line-height:14px;font-size:12.2px;color:#333;font-weight:400;letter-spacing:-0.517px;">$84,153</div>
<div class="hl" style="left:282.500px;top:416.3px;width:934px;background:#e3e3e3"></div>
<div class="t" style="left:294.9px;top:426.20px;height:14px;line-height:14px;font-size:11.6px;color:#808080;font-weight:400;letter-spacing:0px;">5</div>
<div class="t" style="left:351.4px;top:425.20px;height:16px;line-height:16px;font-size:12.3px;color:#222;font-weight:400;letter-spacing:-0.09px;">Sunlight renewal</div>
<svg style="left:583.1px;top:422.8px" width="19.0" height="19.0" viewBox="0 0 20 20"><circle cx="10" cy="10" r="9.800" fill="#eefaff" fill-opacity=".7"/><path d="M1.300 10.800h17.400c0 4.800-3.700 9-8.700 9s-8.700-4.200-8.700-9z" fill="#fbd070"/><path d="M7.500 10.900V6.200c0-1.700 1.300-2.900 3-2.900h2.800c1.900 0 3.200 1.300 3.200 3v1.600c0 1.600-1.300 3-3 3z" fill="#6d97d6"/><path d="M9.400 10.900c.400-2.300 3.200-4 7.100-3.800v1c0 1.600-1.300 2.800-2.900 2.800z" fill="#f3a2b6"/><path d="M7.500 10.800c1.500-.900 3.600-.900 5.200 0z" fill="#f8b58a"/></svg>
<div class="t" style="left:607.4px;top:424.50px;height:16px;line-height:16px;font-size:12.3px;color:#a8a8a8;font-weight:400;letter-spacing:-0.139px;">Ari Ramírez-Medina</div>
<div class="pill" style="left:752.9px;top:423.3px;width:87px;background:#11b83a"></div><div class="t" style="left:760.3px;top:424.90px;height:16px;line-height:16px;font-size:12.4px;color:#fff;font-weight:400;letter-spacing:-0.128px;">Closed—won</div>
<div class="pill" style="left:875.2px;top:423.3px;width:65.3px;background:#fba4bb"></div><div class="t" style="left:882px;top:424.90px;height:16px;line-height:16px;font-size:12.4px;color:#5a0f26;font-weight:400;letter-spacing:-0.025px;">Very high</div>
<div class="t" style="right:324.84399999999994px;top:425.20px;height:16px;line-height:16px;font-size:12.3px;color:#333;font-weight:400;letter-spacing:-0.544px;">$17,573</div>
<div class="t" style="left:1116.5px;top:424.20px;height:16px;line-height:16px;font-size:12.3px;color:#333;font-weight:400;letter-spacing:0.42px;width:99.800px;overflow:hidden">Sunlight Intelligence</div>
<div class="hl" style="left:282.500px;top:446.6px;width:934px;background:#f2f2f2"></div>
<div class="t" style="left:294.9px;top:456.50px;height:14px;line-height:14px;font-size:11.6px;color:#808080;font-weight:400;letter-spacing:0px;">6</div>
<div class="t" style="left:351.4px;top:455.50px;height:16px;line-height:16px;font-size:12.3px;color:#222;font-weight:400;letter-spacing:0.001px;">Acetube inquiry</div>
<svg style="left:583.1px;top:453.1px" width="19.0" height="19.0" viewBox="0 0 20 20"><circle cx="10" cy="10" r="9.800" fill="#eefaff" fill-opacity=".7"/><path d="M1.300 10.800h17.400c0 4.800-3.700 9-8.700 9s-8.700-4.200-8.700-9z" fill="#fbd070"/><path d="M7.500 10.900V6.200c0-1.700 1.300-2.900 3-2.900h2.800c1.900 0 3.200 1.300 3.200 3v1.600c0 1.600-1.300 3-3 3z" fill="#6d97d6"/><path d="M9.400 10.900c.400-2.300 3.200-4 7.100-3.800v1c0 1.600-1.300 2.800-2.900 2.800z" fill="#f3a2b6"/><path d="M7.500 10.800c1.500-.900 3.600-.900 5.200 0z" fill="#f8b58a"/></svg>
<div class="t" style="left:607.4px;top:454.80px;height:16px;line-height:16px;font-size:12.3px;color:#a8a8a8;font-weight:400;letter-spacing:-0.139px;">Ari Ramírez-Medina</div>
<div class="pill" style="left:752.9px;top:453.6px;width:82.7px;background:#2d7ff9"></div><div class="t" style="left:760.3px;top:455.20px;height:16px;line-height:16px;font-size:12.4px;color:#fff;font-weight:400;letter-spacing:0.047px;">Qualification</div>
<div class="pill" style="left:875.2px;top:453.6px;width:59.3px;background:#ffdd72"></div><div class="t" style="left:882px;top:455.20px;height:16px;line-height:16px;font-size:12.4px;color:#4a3200;font-weight:400;letter-spacing:0.299px;">Medium</div>
<div class="t" style="right:324.84399999999994px;top:455.50px;height:16px;line-height:16px;font-size:12.3px;color:#333;font-weight:400;letter-spacing:-0.544px;">$15,133</div>
<div class="t" style="left:1116.5px;top:454.50px;height:16px;line-height:16px;font-size:12.3px;color:#333;font-weight:400;letter-spacing:-0.089px;width:99.800px;overflow:hidden">Acetube</div>
<div class="hl" style="left:282.500px;top:476.9px;width:934px;background:#f2f2f2"></div>
<div class="t" style="left:294.9px;top:486.80px;height:14px;line-height:14px;font-size:11.6px;color:#808080;font-weight:400;letter-spacing:0px;">7</div>
<div class="t" style="left:351.4px;top:485.80px;height:16px;line-height:16px;font-size:12.3px;color:#222;font-weight:400;letter-spacing:-0.255px;">Payless inbound</div>
<svg style="left:583.1px;top:483.40000000000003px" width="19.0" height="19.0" viewBox="0 0 20 20"><circle cx="10" cy="10" r="9.800" fill="#eefaff" fill-opacity=".7"/><path d="M1.300 10.800h17.400c0 4.800-3.700 9-8.700 9s-8.700-4.200-8.700-9z" fill="#fbd070"/><path d="M7.500 10.900V6.200c0-1.700 1.300-2.900 3-2.900h2.800c1.900 0 3.200 1.300 3.200 3v1.600c0 1.600-1.300 3-3 3z" fill="#6d97d6"/><path d="M9.400 10.900c.400-2.300 3.200-4 7.100-3.800v1c0 1.600-1.300 2.800-2.900 2.800z" fill="#f3a2b6"/><path d="M7.500 10.800c1.500-.900 3.600-.900 5.200 0z" fill="#f8b58a"/></svg>
<div class="t" style="left:607.4px;top:485.10px;height:16px;line-height:16px;font-size:12.3px;color:#a8a8a8;font-weight:400;letter-spacing:-0.139px;">Ari Ramírez-Medina</div>
<div class="pill" style="left:752.9px;top:483.9px;width:62px;background:#18bfff"></div><div class="t" style="left:760.3px;top:485.50px;height:16px;line-height:16px;font-size:12.4px;color:#fff;font-weight:400;letter-spacing:-0.135px;">Proposal</div>
<div class="pill" style="left:875.2px;top:483.9px;width:36.7px;background:#93e088"></div><div class="t" style="left:882px;top:485.50px;height:16px;line-height:16px;font-size:12.4px;color:#0b3d0b;font-weight:400;letter-spacing:0.026px;">Low</div>
<div class="t" style="right:324.84399999999994px;top:485.80px;height:16px;line-height:16px;font-size:12.3px;color:#333;font-weight:400;letter-spacing:-0.544px;">$20,999</div>
<div class="t" style="left:1116.5px;top:484.80px;height:16px;line-height:16px;font-size:12.3px;color:#333;font-weight:400;letter-spacing:-0.642px;width:99.800px;overflow:hidden">Payless Cashways</div>
<div class="hl" style="left:282.500px;top:507.2px;width:934px;background:#f2f2f2"></div>
<div class="t" style="left:294.9px;top:517.10px;height:14px;line-height:14px;font-size:11.6px;color:#808080;font-weight:400;letter-spacing:0px;">8</div>
<div class="t" style="left:351.4px;top:516.10px;height:16px;line-height:16px;font-size:12.3px;color:#222;font-weight:400;letter-spacing:-0.331px;">Galerprises second use case</div>
<svg style="left:583.1px;top:513.7px" width="19.0" height="19.0" viewBox="0 0 20 20"><circle cx="10" cy="10" r="9.800" fill="#eefaff" fill-opacity=".7"/><path d="M1.300 10.800h17.400c0 4.800-3.700 9-8.700 9s-8.700-4.200-8.700-9z" fill="#fbd070"/><path d="M7.500 10.900V6.200c0-1.700 1.300-2.900 3-2.900h2.800c1.900 0 3.200 1.300 3.200 3v1.600c0 1.600-1.300 3-3 3z" fill="#6d97d6"/><path d="M9.400 10.900c.400-2.300 3.200-4 7.100-3.800v1c0 1.600-1.300 2.800-2.900 2.800z" fill="#f3a2b6"/><path d="M7.500 10.800c1.500-.900 3.600-.900 5.200 0z" fill="#f8b58a"/></svg>
<div class="t" style="left:607.4px;top:515.40px;height:16px;line-height:16px;font-size:12.3px;color:#a8a8a8;font-weight:400;letter-spacing:-0.139px;">Ari Ramírez-Medina</div>
<div class="pill" style="left:752.9px;top:514.2px;width:83.5px;background:#f82b60"></div><div class="t" style="left:760.3px;top:515.80px;height:16px;line-height:16px;font-size:12.4px;color:#fff;font-weight:400;letter-spacing:-0.15px;">Closed—lost</div>
<div class="pill" style="left:875.2px;top:514.2px;width:39.7px;background:#ffa981"></div><div class="t" style="left:882px;top:515.80px;height:16px;line-height:16px;font-size:12.4px;color:#6b2613;font-weight:400;letter-spacing:0.266px;">High</div>
<div class="t" style="right:324.84399999999994px;top:516.10px;height:16px;line-height:16px;font-size:12.3px;color:#333;font-weight:400;letter-spacing:-0.544px;">$23,833</div>
<div class="t" style="left:1116.5px;top:515.10px;height:16px;line-height:16px;font-size:12.3px;color:#333;font-weight:400;letter-spacing:-0.329px;width:99.800px;overflow:hidden">Galerprises</div>
<div class="hl" style="left:282.500px;top:537.5px;width:934px;background:#f2f2f2"></div>
<div class="t" style="left:294.9px;top:547.40px;height:14px;line-height:14px;font-size:11.6px;color:#808080;font-weight:400;letter-spacing:0px;">9</div>
<div class="t" style="left:351.4px;top:546.40px;height:16px;line-height:16px;font-size:12.3px;color:#222;font-weight:400;letter-spacing:-0.044px;">Acepoly first team</div>
<svg style="left:583.1px;top:544.0px" width="19.0" height="19.0" viewBox="0 0 20 20"><circle cx="10" cy="10" r="9.800" fill="#eefaff" fill-opacity=".7"/><path d="M1.300 10.800h17.400c0 4.800-3.700 9-8.700 9s-8.700-4.200-8.700-9z" fill="#fbd070"/><path d="M7.500 10.900V6.200c0-1.700 1.300-2.900 3-2.900h2.800c1.900 0 3.200 1.300 3.200 3v1.600c0 1.600-1.300 3-3 3z" fill="#6d97d6"/><path d="M9.400 10.900c.400-2.300 3.200-4 7.100-3.800v1c0 1.600-1.300 2.800-2.900 2.800z" fill="#f3a2b6"/><path d="M7.500 10.800c1.500-.900 3.600-.900 5.200 0z" fill="#f8b58a"/></svg>
<div class="t" style="left:607.4px;top:545.70px;height:16px;line-height:16px;font-size:12.3px;color:#a8a8a8;font-weight:400;letter-spacing:-0.139px;">Ari Ramírez-Medina</div>
<div class="pill" style="left:752.9px;top:544.5px;width:70.8px;background:#fcb400"></div><div class="t" style="left:760.3px;top:546.10px;height:16px;line-height:16px;font-size:12.4px;color:#fff;font-weight:400;letter-spacing:-0.234px;">Evaluation</div>
<div class="pill" style="left:875.2px;top:544.5px;width:39.7px;background:#ffa981"></div><div class="t" style="left:882px;top:546.10px;height:16px;line-height:16px;font-size:12.4px;color:#6b2613;font-weight:400;letter-spacing:0.266px;">High</div>
<div class="t" style="right:324.84399999999994px;top:546.40px;height:16px;line-height:16px;font-size:12.3px;color:#333;font-weight:400;letter-spacing:-0.544px;">$6,615</div>
<div class="t" style="left:1116.5px;top:545.40px;height:16px;line-height:16px;font-size:12.3px;color:#333;font-weight:400;letter-spacing:-0.043px;width:99.800px;overflow:hidden">Acepoly</div>
<div class="hl" style="left:282.500px;top:567.8px;width:934px;background:#f2f2f2"></div>
<svg style="left:295px;top:579.7499999999999px" width="8" height="8" viewBox="0 0 8 8"><path d="M4 0v8M0 4h8" stroke="#222" stroke-width="1.700"/></svg>
<div class="abs" style="left:281.500px;top:613.2px;width:940px;height:217.3px;border:1px solid #dcdcdc;border-radius:5px 0 0 5px;background:#fff"></div>
<div class="t" style="left:315.5px;top:617.40px;height:12px;line-height:12px;font-size:8.6px;color:#7a7a7a;font-weight:400;letter-spacing:0.234px;">OWNER</div>
<svg style="left:294px;top:634.1px" width="9.500" height="7" viewBox="0 0 9.500 7"><path d="M0 0h9.500L4.750 6.800z" fill="#333"/></svg>
<svg style="left:321.6px;top:634.6000000000001px" width="18.8" height="18.8" viewBox="0 0 20 20"><path d="M1.700 13.200h16.800c-1.300 3.900-4.500 6.600-8.500 6.600s-7.100-2.700-8.300-6.600z" fill="#fbd56e"/><path d="M8.600 13.400c-.300-2.400 .400-4.400 2.200-4.400 1.700 0 2.400 2 2.100 4.400-.500 .900-3.700 .900-4.300 0z" fill="#f49ab0"/><path d="M5.200 8.200c-.300-2.400 1.600-4.500 4.100-4.400 2.300 .100 3.600 1.700 3.200 4.300-.100 .800-.500 1.400-1 1.700-1.300-.300-2.200 .200-2.700 1.200-2 .200-3.400-.900-3.600-2.800z" fill="#6b5561"/></svg>
<div class="t" style="left:346.2px;top:635.40px;height:18px;line-height:18px;font-size:13.2px;color:#9a9a9a;font-weight:700;letter-spacing:-0.821px;">Casey Park</div>
<div class="t" style="left:525.7px;top:631.50px;height:14px;line-height:14px;font-size:10.2px;color:#888;font-weight:400;letter-spacing:-0.23px;">Count</div>
<div class="t" style="left:557.3px;top:630.80px;height:14px;line-height:14px;font-size:11.6px;color:#444;font-weight:400;letter-spacing:0px;">6</div>
<svg style="left:1022px;top:636.0px" width="7" height="5.00" viewBox="0 0 7 5"><path d="M0 0h7L3.500 4.400z" fill="#888"/></svg>
<div class="t" style="left:1034.4px;top:631.30px;height:14px;line-height:14px;font-size:10px;color:#888;font-weight:400;letter-spacing:-0.631px;">Sum</div>
<div class="t" style="left:1059.7px;top:631.30px;height:14px;line-height:14px;font-size:12.2px;color:#333;font-weight:400;letter-spacing:-0.517px;">$91,829</div>
<div class="hl" style="left:282.500px;top:658.5px;width:934px;background:#e3e3e3"></div>
<div class="t" style="left:292.6px;top:668.40px;height:14px;line-height:14px;font-size:10.6px;color:#888;font-weight:400;letter-spacing:-0.591px;">10</div>
<div class="t" style="left:351.4px;top:667.40px;height:16px;line-height:16px;font-size:12.3px;color:#222;font-weight:400;letter-spacing:-0.501px;">Wolf RFI</div>
<svg style="left:583.1px;top:665.0px" width="19.0" height="19.0" viewBox="0 0 20 20"><path d="M1.700 13.200h16.800c-1.300 3.900-4.500 6.600-8.500 6.600s-7.100-2.700-8.300-6.600z" fill="#fbd56e"/><path d="M8.600 13.400c-.300-2.400 .400-4.400 2.200-4.400 1.700 0 2.400 2 2.100 4.400-.500 .900-3.700 .900-4.300 0z" fill="#f49ab0"/><path d="M5.200 8.200c-.300-2.400 1.600-4.500 4.100-4.400 2.300 .100 3.600 1.700 3.200 4.300-.100 .800-.500 1.400-1 1.700-1.300-.300-2.200 .200-2.700 1.200-2 .200-3.400-.900-3.600-2.800z" fill="#6b5561"/></svg>
<div class="t" style="left:607.4px;top:666.70px;height:16px;line-height:16px;font-size:12.3px;color:#a8a8a8;font-weight:400;letter-spacing:-0.708px;">Casey Park</div>
<div class="pill" style="left:752.9px;top:665.5px;width:70.8px;background:#fcb400"></div><div class="t" style="left:760.3px;top:667.10px;height:16px;line-height:16px;font-size:12.4px;color:#fff;font-weight:400;letter-spacing:-0.234px;">Evaluation</div>
<div class="pill" style="left:875.2px;top:665.5px;width:39.7px;background:#ffa981"></div><div class="t" style="left:882px;top:667.10px;height:16px;line-height:16px;font-size:12.4px;color:#6b2613;font-weight:400;letter-spacing:0.266px;">High</div>
<div class="t" style="right:324.84399999999994px;top:667.40px;height:16px;line-height:16px;font-size:12.3px;color:#333;font-weight:400;letter-spacing:-0.544px;">$17,252</div>
<div class="t" style="left:1116.5px;top:666.40px;height:16px;line-height:16px;font-size:12.3px;color:#333;font-weight:400;letter-spacing:0.191px;width:99.800px;overflow:hidden">Wolf Motors</div>
<div class="hl" style="left:282.500px;top:688.8px;width:934px;background:#f2f2f2"></div>
<div class="t" style="left:292.6px;top:698.70px;height:14px;line-height:14px;font-size:10.6px;color:#888;font-weight:400;letter-spacing:0.196px;">11</div>
<div class="t" style="left:351.4px;top:697.70px;height:16px;line-height:16px;font-size:12.3px;color:#222;font-weight:400;letter-spacing:-0.244px;">Acepolly second use case</div>
<svg style="left:583.1px;top:695.3px" width="19.0" height="19.0" viewBox="0 0 20 20"><path d="M1.700 13.200h16.800c-1.300 3.900-4.500 6.600-8.500 6.600s-7.100-2.700-8.300-6.600z" fill="#fbd56e"/><path d="M8.600 13.400c-.300-2.400 .400-4.400 2.200-4.400 1.700 0 2.400 2 2.100 4.400-.500 .900-3.700 .900-4.300 0z" fill="#f49ab0"/><path d="M5.200 8.200c-.300-2.400 1.600-4.500 4.100-4.400 2.300 .100 3.600 1.700 3.200 4.300-.100 .800-.500 1.400-1 1.700-1.300-.300-2.200 .200-2.700 1.200-2 .200-3.400-.900-3.600-2.800z" fill="#6b5561"/></svg>
<div class="t" style="left:607.4px;top:697.00px;height:16px;line-height:16px;font-size:12.3px;color:#a8a8a8;font-weight:400;letter-spacing:-0.708px;">Casey Park</div>
<div class="pill" style="left:752.9px;top:695.8px;width:87px;background:#11b83a"></div><div class="t" style="left:760.3px;top:697.40px;height:16px;line-height:16px;font-size:12.4px;color:#fff;font-weight:400;letter-spacing:-0.128px;">Closed—won</div>
<div class="pill" style="left:875.2px;top:695.8px;width:59.3px;background:#ffdd72"></div><div class="t" style="left:882px;top:697.40px;height:16px;line-height:16px;font-size:12.4px;color:#4a3200;font-weight:400;letter-spacing:0.299px;">Medium</div>
<div class="t" style="right:324.84399999999994px;top:697.70px;height:16px;line-height:16px;font-size:12.3px;color:#333;font-weight:400;letter-spacing:-0.544px;">$18,049</div>
<div class="t" style="left:1116.5px;top:696.70px;height:16px;line-height:16px;font-size:12.3px;color:#333;font-weight:400;letter-spacing:-0.043px;width:99.800px;overflow:hidden">Acepoly</div>
<div class="hl" style="left:282.500px;top:719.1px;width:934px;background:#f2f2f2"></div>
<div class="t" style="left:292.6px;top:729.00px;height:14px;line-height:14px;font-size:10.6px;color:#888;font-weight:400;letter-spacing:-0.591px;">12</div>
<div class="t" style="left:351.4px;top:728.00px;height:16px;line-height:16px;font-size:12.3px;color:#222;font-weight:400;letter-spacing:-0.129px;">Timbershadow expansion</div>
<svg style="left:583.1px;top:725.6px" width="19.0" height="19.0" viewBox="0 0 20 20"><path d="M1.700 13.200h16.800c-1.300 3.900-4.500 6.600-8.500 6.600s-7.100-2.700-8.300-6.600z" fill="#fbd56e"/><path d="M8.600 13.400c-.300-2.400 .400-4.400 2.200-4.400 1.700 0 2.400 2 2.100 4.400-.500 .900-3.700 .900-4.300 0z" fill="#f49ab0"/><path d="M5.200 8.200c-.300-2.400 1.600-4.500 4.100-4.400 2.300 .100 3.600 1.700 3.200 4.300-.100 .800-.500 1.400-1 1.700-1.300-.300-2.200 .200-2.700 1.200-2 .200-3.400-.900-3.600-2.800z" fill="#6b5561"/></svg>
<div class="t" style="left:607.4px;top:727.30px;height:16px;line-height:16px;font-size:12.3px;color:#a8a8a8;font-weight:400;letter-spacing:-0.708px;">Casey Park</div>
<div class="pill" style="left:752.9px;top:726.1px;width:82.7px;background:#2d7ff9"></div><div class="t" style="left:760.3px;top:727.70px;height:16px;line-height:16px;font-size:12.4px;color:#fff;font-weight:400;letter-spacing:0.047px;">Qualification</div>
<div class="pill" style="left:875.2px;top:726.1px;width:65.3px;background:#fba4bb"></div><div class="t" style="left:882px;top:727.70px;height:16px;line-height:16px;font-size:12.4px;color:#5a0f26;font-weight:400;letter-spacing:-0.025px;">Very high</div>
<div class="t" style="right:324.84399999999994px;top:728.00px;height:16px;line-height:16px;font-size:12.3px;color:#333;font-weight:400;letter-spacing:-0.544px;">$6,154</div>
<div class="t" style="left:1116.5px;top:727.00px;height:16px;line-height:16px;font-size:12.3px;color:#333;font-weight:400;letter-spacing:-0.056px;width:99.800px;overflow:hidden">Timbershadow</div>
<div class="hl" style="left:282.500px;top:749.4px;width:934px;background:#f2f2f2"></div>
<div class="t" style="left:292.6px;top:759.30px;height:14px;line-height:14px;font-size:10.6px;color:#888;font-weight:400;letter-spacing:-0.591px;">13</div>
<div class="t" style="left:351.4px;top:758.30px;height:16px;line-height:16px;font-size:12.3px;color:#222;font-weight:400;letter-spacing:-0.774px;">LKS req</div>
<svg style="left:583.1px;top:755.9px" width="19.0" height="19.0" viewBox="0 0 20 20"><path d="M1.700 13.200h16.800c-1.300 3.900-4.500 6.600-8.500 6.600s-7.100-2.700-8.300-6.600z" fill="#fbd56e"/><path d="M8.600 13.400c-.300-2.400 .400-4.400 2.200-4.400 1.700 0 2.400 2 2.100 4.400-.500 .900-3.700 .900-4.300 0z" fill="#f49ab0"/><path d="M5.200 8.200c-.300-2.400 1.600-4.500 4.100-4.400 2.300 .100 3.600 1.700 3.200 4.300-.100 .800-.500 1.400-1 1.700-1.300-.300-2.200 .200-2.700 1.200-2 .200-3.400-.900-3.600-2.800z" fill="#6b5561"/></svg>
<div class="t" style="left:607.4px;top:757.60px;height:16px;line-height:16px;font-size:12.3px;color:#a8a8a8;font-weight:400;letter-spacing:-0.708px;">Casey Park</div>
<div class="pill" style="left:752.9px;top:756.4px;width:82.7px;background:#2d7ff9"></div><div class="t" style="left:760.3px;top:758.00px;height:16px;line-height:16px;font-size:12.4px;color:#fff;font-weight:400;letter-spacing:0.047px;">Qualification</div>
<div class="pill" style="left:875.2px;top:756.4px;width:59.3px;background:#ffdd72"></div><div class="t" style="left:882px;top:758.00px;height:16px;line-height:16px;font-size:12.4px;color:#4a3200;font-weight:400;letter-spacing:0.299px;">Medium</div>
<div class="t" style="right:324.84399999999994px;top:758.30px;height:16px;line-height:16px;font-size:12.3px;color:#333;font-weight:400;letter-spacing:-0.544px;">$9,767</div>
<div class="t" style="left:1116.5px;top:757.30px;height:16px;line-height:16px;font-size:12.3px;color:#333;font-weight:400;letter-spacing:-0.023px;width:99.800px;overflow:hidden">Leonard Krower &amp; S</div>
<div class="hl" style="left:282.500px;top:779.7px;width:934px;background:#f2f2f2"></div>
<div class="t" style="left:292.6px;top:789.60px;height:14px;line-height:14px;font-size:10.6px;color:#888;font-weight:400;letter-spacing:-0.591px;">14</div>
<div class="t" style="left:351.4px;top:788.60px;height:16px;line-height:16px;font-size:12.3px;color:#222;font-weight:400;letter-spacing:-0.066px;">Huyler main team</div>
<svg style="left:583.1px;top:786.2px" width="19.0" height="19.0" viewBox="0 0 20 20"><path d="M1.700 13.200h16.800c-1.300 3.900-4.500 6.600-8.500 6.600s-7.100-2.700-8.300-6.600z" fill="#fbd56e"/><path d="M8.600 13.400c-.300-2.400 .400-4.400 2.200-4.400 1.700 0 2.400 2 2.100 4.400-.500 .900-3.700 .900-4.300 0z" fill="#f49ab0"/><path d="M5.200 8.200c-.300-2.400 1.600-4.500 4.100-4.400 2.300 .100 3.600 1.700 3.200 4.300-.100 .800-.500 1.400-1 1.700-1.300-.300-2.200 .200-2.700 1.200-2 .200-3.400-.900-3.600-2.800z" fill="#6b5561"/></svg>
<div class="t" style="left:607.4px;top:787.90px;height:16px;line-height:16px;font-size:12.3px;color:#a8a8a8;font-weight:400;letter-spacing:-0.708px;">Casey Park</div>
<div class="pill" style="left:752.9px;top:786.7px;width:70.8px;background:#fcb400"></div><div class="t" style="left:760.3px;top:788.30px;height:16px;line-height:16px;font-size:12.4px;color:#fff;font-weight:400;letter-spacing:-0.234px;">Evaluation</div>
<div class="pill" style="left:875.2px;top:786.7px;width:65.3px;background:#fba4bb"></div><div class="t" style="left:882px;top:788.30px;height:16px;line-height:16px;font-size:12.4px;color:#5a0f26;font-weight:400;letter-spacing:-0.025px;">Very high</div>
<div class="t" style="right:324.84399999999994px;top:788.60px;height:16px;line-height:16px;font-size:12.3px;color:#333;font-weight:400;letter-spacing:-0.544px;">$20,539</div>
<div class="t" style="left:1116.5px;top:787.60px;height:16px;line-height:16px;font-size:12.3px;color:#333;font-weight:400;letter-spacing:-0.209px;width:99.800px;overflow:hidden">Huyler’s</div>
<div class="vl" style="left:576.500px;top:144px;height:660px;background:#dcdcdc"></div>
<svg style="left:427.500px;top:267px" width="12" height="18" viewBox="0 0 12 18" opacity=".8"><path d="M.700 .800v13.400l3.200-3 2.300 5.300 1.800-.800-2.300-5.100h4.400z" fill="#fff" stroke="#777" stroke-width="1"/></svg>
<svg style="left:387px;top:266px" width="12" height="18" viewBox="0 0 12 18" opacity=".22"><path d="M.700 .800v13.400l3.200-3 2.300 5.300 1.800-.800-2.300-5.100h4.400z" fill="#fff" stroke="#555" stroke-width=".900"/></svg>
<div class="abs" style="left:1216.200px;top:80px;width:11.300px;height:724px;background:#ff6f2c"></div>
<div class="abs" style="left:1206px;top:148px;width:7px;height:357.500px;background:rgba(70,70,85,.30);border-radius:4px"></div>
<div class="abs" style="left:1220.300px;top:479.5px;width:2.600px;height:2.600px;border-radius:2px;background:rgba(255,255,255,.75)"></div>
<div class="abs" style="left:1220.300px;top:486px;width:2.600px;height:2.600px;border-radius:2px;background:rgba(255,255,255,.75)"></div>
<div class="abs" style="left:1220.300px;top:492.5px;width:2.600px;height:2.600px;border-radius:2px;background:rgba(255,255,255,.75)"></div>
<svg style="left:1246.500px;top:94px" width="8" height="6" viewBox="0 0 8 6"><path d="M0 0h8L4 5.700z" fill="#666"/></svg>
<div class="t" style="left:1266.4px;top:88.00px;height:18px;line-height:18px;font-size:13px;color:#333;font-weight:400;letter-spacing:-0.15px;">Sales CRM HQ</div>
<div class="hl" style="left:1232px;top:117px;width:200px;background:#e8e8e8"></div>
<div class="t" style="left:1244px;top:134.70px;height:16px;line-height:16px;font-size:12px;color:#909090;font-weight:400;letter-spacing:-0.415px;">Read me</div>
<svg style="left:1295px;top:135px" width="15" height="16" viewBox="1295 135 15 16"><path d="M1301.300 137.200c1.500-.800 3.200-.500 4.600 .500 1.600 1.200 2.400 3.100 2.600 5.200 .200 2.300-.400 4.400-2 5.800-1.400 1.200-3.300 1.200-4.700 .200l-3.700-3.400c-1.100-1.100-1.400-2.600-.900-4.100 .600-1.900 2.200-3.300 4.100-4.200z" fill="#f7d047" stroke="#a17a20" stroke-width=".9"/><path d="M1302 136.300c1.300-.800 2.900-.500 3.700 .500 .600 .900 .600 2.300 .2 3.700-1.300-1.200-2.700-2.700-3.900-4.200z" fill="#3d4348"/><path d="M1296.100 145c.3 1.200 1.200 2.300 2.300 3 .8 .400 1.500 .300 1.800-.300l-3.400-3.600c-.5 0-.8 .400-.7 .900z" fill="#364250"/></svg>
<svg style="left:1316.8px;top:140.1px" width="5.6" height="4.00" viewBox="0 0 7 5"><path d="M0 0h7L3.500 4.400z" fill="#4a4a4a"/></svg>
<div class="abs" style="left:1243.500px;top:159px;width:190px;height:347px;border:1px solid #f0f0f0;border-radius:3px;background:#fff;box-shadow:0 0 2px rgba(0,0,0,.05)"></div>
<div class="t" style="left:1275.8px;top:191.30px;height:30px;line-height:30px;font-size:22.6px;color:#1a1a1a;font-weight:400;letter-spacing:-0.032px;-webkit-text-stroke:.600px #fff">How should I u</div>
<div class="t" style="left:1275.8px;top:236.30px;height:18px;line-height:18px;font-size:13.3px;color:#3a3a3a;font-weight:400;letter-spacing:-0.034px;">Use this template to log in</div>
<div class="t" style="left:1275.8px;top:256.20px;height:18px;line-height:18px;font-size:13.3px;color:#3a3a3a;font-weight:400;letter-spacing:-0.261px;">your accounts.</div>
<div class="t" style="left:1275.8px;top:290.90px;height:18px;line-height:18px;font-size:13.3px;color:#3a3a3a;font-weight:400;letter-spacing:-0.125px;">Here are a few tips for gett</div>
<div class="abs" style="left:1286.300px;top:334.2px;width:3.400px;height:3.400px;border-radius:2px;background:#333"></div>
<div class="t" style="left:1295.5px;top:325.90px;height:18px;line-height:18px;font-size:13.3px;color:#3a3a3a;font-weight:400;letter-spacing:-0.14px;">Everything in an Airtable</div>
<div class="t" style="left:1295.5px;top:345.80px;height:18px;line-height:18px;font-size:13.3px;color:#3a3a3a;font-weight:400;letter-spacing:-0.348px;">any <span class=lk>tables</span>, <span class=lk>fields</span>, <span class=lk>records</span></div>
<div class="abs" style="left:1286.300px;top:381.2px;width:3.400px;height:3.400px;border-radius:2px;background:#333"></div>
<div class="t" style="left:1295.5px;top:372.90px;height:18px;line-height:18px;font-size:13.3px;color:#3a3a3a;font-weight:400;letter-spacing:-0.062px;">The Account field in the</div>
<div class="t" style="left:1295.5px;top:393.00px;height:18px;line-height:18px;font-size:13.3px;color:#3a3a3a;font-weight:400;letter-spacing:0.032px;">that if you click on one</div>
<div class="t" style="left:1295.5px;top:412.80px;height:18px;line-height:18px;font-size:13.3px;color:#3a3a3a;font-weight:400;letter-spacing:0.075px;">it’ll open up an <span class=lk>expanded</span></div>
<div class="t" style="left:1295.5px;top:433.00px;height:18px;line-height:18px;font-size:13.3px;color:#3a3a3a;font-weight:400;letter-spacing:-0.327px;">table.</div>
<div class="abs" style="left:1286.300px;top:468.4px;width:3.400px;height:3.400px;border-radius:2px;background:#333"></div>
<div class="t" style="left:1295.5px;top:460.10px;height:18px;line-height:18px;font-size:13.3px;color:#3a3a3a;font-weight:400;letter-spacing:-0.242px;">Use <span class=lk>filters</span> to see just th</div>
<div class="t" style="left:1295.5px;top:480.30px;height:18px;line-height:18px;font-size:13.3px;color:#3a3a3a;font-weight:400;letter-spacing:-0.116px;">VIP contact info view in</div>
<div class="t" style="left:1243.5px;top:521.00px;height:16px;line-height:16px;font-size:12.2px;color:#999;font-weight:400;letter-spacing:-0.201px;">Est. value deals by owner</div>
<svg style="left:1385px;top:527px" width="5.6" height="4.00" viewBox="0 0 7 5"><path d="M0 0h7L3.500 4.400z" fill="#4a4a4a"/></svg>
<div class="abs" style="left:1243.500px;top:545.500px;width:190px;height:270px;border:1px solid #f0f0f0;border-radius:3px;background:#fff;box-shadow:0 0 2px rgba(0,0,0,.05)"></div>
<div class="t" style="left:1280px;top:565.90px;height:14px;line-height:14px;font-size:11.8px;color:#444;font-weight:400;letter-spacing:-0.45px;">50k</div>
<div class="t" style="left:1280px;top:608.00px;height:14px;line-height:14px;font-size:11.8px;color:#444;font-weight:400;letter-spacing:-0.45px;">40k</div>
<div class="t" style="left:1280px;top:650.00px;height:14px;line-height:14px;font-size:11.8px;color:#444;font-weight:400;letter-spacing:-0.45px;">30k</div>
<div class="t" style="left:1280px;top:692.00px;height:14px;line-height:14px;font-size:11.8px;color:#444;font-weight:400;letter-spacing:-0.45px;">20k</div>
<div class="t" style="left:1280px;top:734.00px;height:14px;line-height:14px;font-size:11.8px;color:#444;font-weight:400;letter-spacing:-0.45px;">10k</div>
<div class="t" style="left:1291px;top:775.40px;height:14px;line-height:14px;font-size:11.8px;color:#444;font-weight:400;letter-spacing:0px;">0</div>
<div class="abs" style="left:1298.500px;top:781.800px;width:130px;height:1.200px;background:#555"></div>
<div class="abs" style="left:1305.3px;top:719.1px;width:8.4px;height:62.9px;background:#1258e6"></div>
<div class="abs" style="left:1313.7px;top:694.6px;width:8.5px;height:87.4px;background:#14a0fa"></div>
<div class="abs" style="left:1322.2px;top:755px;width:8.8px;height:27.0px;background:#e89c0e"></div>
<div class="abs" style="left:1339px;top:709.3px;width:8.4px;height:72.7px;background:#0e9a26"></div>
<div class="abs" style="left:1347.4px;top:682.6px;width:8.8px;height:99.4px;background:#f51646"></div>
<div class="abs" style="left:1368.6px;top:715.9px;width:8.4px;height:66.1px;background:#1258e6"></div>
<div class="abs" style="left:1385.8px;top:623.3px;width:8.8px;height:158.7px;background:#e89c0e"></div>
<div class="abs" style="left:1403px;top:622.2px;width:8.4px;height:159.8px;background:#0e9a26"></div>
<div class="t" style="left:1334px;top:783.500px;font-size:11px;color:#666;font-style:italic;transform-origin:0 0;transform:rotate(33deg)">Ari Ra</div>
<div class="t" style="left:1398.500px;top:783.500px;font-size:11px;color:#666;font-style:italic;transform-origin:0 0;transform:rotate(33deg)">Casey</div>
</body></html>
